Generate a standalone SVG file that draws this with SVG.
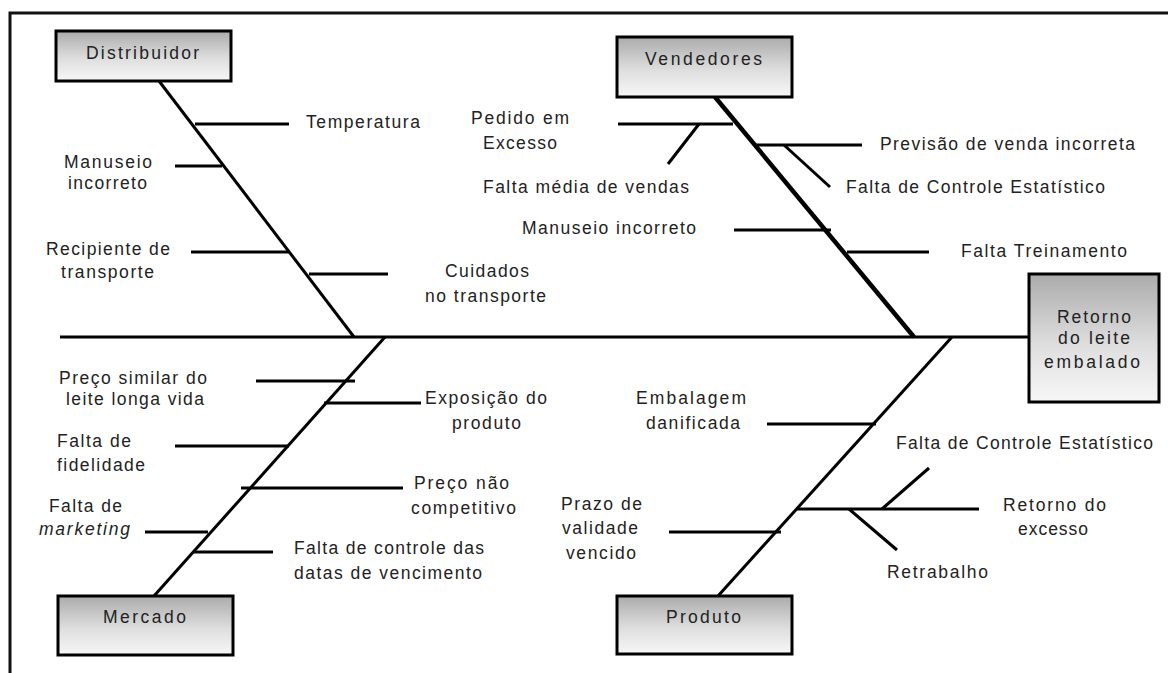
<svg xmlns="http://www.w3.org/2000/svg" width="1168" height="673" viewBox="0 0 1168 673">
<style>
.frame{fill:none;stroke:#111;stroke-width:3}
.bone{fill:none;stroke:#000;stroke-width:3;stroke-linecap:butt}
.thick{stroke-width:4.5}
.box{fill:url(#g);stroke:#000;stroke-width:3}
text{font-family:"Liberation Sans",Arial,sans-serif;font-size:17.5px;fill:#222}
.it{font-style:italic}
</style>
<defs>
<linearGradient id="g" x1="0" y1="0" x2="0" y2="1">
<stop offset="0" stop-color="#ababab"/>
<stop offset="0.55" stop-color="#dedede"/>
<stop offset="1" stop-color="#f7f7f7"/>
</linearGradient>
</defs>
<rect width="1168" height="673" fill="#fff"/>
<path class="frame" d="M10,673 V13 H1168"/>

<g id="connectors">
<line class="bone" x1="60" y1="337" x2="1029" y2="337"/>
<line class="bone" x1="159" y1="81" x2="354" y2="337"/>
<line class="bone thick" x1="715" y1="97" x2="914" y2="337"/>
<line class="bone" x1="385" y1="337" x2="154" y2="596"/>
<line class="bone" x1="952" y1="337" x2="718" y2="596"/>
<line class="bone" x1="195" y1="124" x2="289" y2="124"/>
<line class="bone" x1="175" y1="166" x2="222" y2="166"/>
<line class="bone" x1="191" y1="252" x2="289" y2="252"/>
<line class="bone" x1="309" y1="274" x2="388" y2="274"/>
<line class="bone" x1="618" y1="124" x2="733" y2="124"/>
<line class="bone" x1="699" y1="124" x2="668" y2="164"/>
<line class="bone" x1="756" y1="145" x2="862" y2="145"/>
<line class="bone" x1="784" y1="145" x2="830" y2="187"/>
<line class="bone" x1="734" y1="230" x2="831" y2="230"/>
<line class="bone" x1="847" y1="252" x2="929" y2="252"/>
<line class="bone" x1="256" y1="381" x2="355" y2="381"/>
<line class="bone" x1="324" y1="403" x2="421" y2="403"/>
<line class="bone" x1="175" y1="446" x2="289" y2="446"/>
<line class="bone" x1="241" y1="488" x2="403" y2="488"/>
<line class="bone" x1="145" y1="532" x2="208" y2="532"/>
<line class="bone" x1="193" y1="552" x2="273" y2="552"/>
<line class="bone" x1="767" y1="424" x2="876" y2="424"/>
<line class="bone" x1="669" y1="532" x2="781" y2="532"/>
<line class="bone" x1="796" y1="509" x2="979" y2="509"/>
<line class="bone" x1="882" y1="509" x2="929" y2="468"/>
<line class="bone" x1="849" y1="509" x2="897" y2="550"/>
</g>

<g id="node-distribuidor">
<rect class="box" x="56" y="31" width="175" height="50"/>
<text x="86" y="59" textLength="113" lengthAdjust="spacing">Distribuidor</text>
</g>
<g id="node-vendedores">
<rect class="box" x="617" y="37" width="175" height="60"/>
<text x="645" y="65" textLength="117" lengthAdjust="spacing">Vendedores</text>
</g>
<g id="node-mercado">
<rect class="box" x="58" y="596" width="175" height="59"/>
<text x="103" y="623" textLength="83" lengthAdjust="spacing">Mercado</text>
</g>
<g id="node-produto">
<rect class="box" x="617" y="596" width="175" height="58"/>
<text x="666" y="623" textLength="75" lengthAdjust="spacing">Produto</text>
</g>
<g id="node-retorno">
<rect class="box" x="1029" y="274" width="130" height="128"/>
<text x="1057" y="323" textLength="74" lengthAdjust="spacing">Retorno</text>
<text x="1058" y="344" textLength="72" lengthAdjust="spacing">do leite</text>
<text x="1044" y="368" textLength="96" lengthAdjust="spacing">embalado</text>
</g>

<g id="causes-distribuidor">
<text x="306" y="128" textLength="114" lengthAdjust="spacing">Temperatura</text>
<text x="64" y="168" textLength="88" lengthAdjust="spacing">Manuseio</text>
<text x="68" y="189" textLength="79" lengthAdjust="spacing">incorreto</text>
<text x="46" y="255" textLength="124" lengthAdjust="spacing">Recipiente de</text>
<text x="61" y="278" textLength="93" lengthAdjust="spacing">transporte</text>
<text x="445" y="277" textLength="84" lengthAdjust="spacing">Cuidados</text>
<text x="425" y="302" textLength="121" lengthAdjust="spacing">no transporte</text>
</g>

<g id="causes-vendedores">
<text x="471" y="124" textLength="98" lengthAdjust="spacing">Pedido em</text>
<text x="483" y="149" textLength="74" lengthAdjust="spacing">Excesso</text>
<text x="483" y="193" textLength="206" lengthAdjust="spacing">Falta média de vendas</text>
<text x="522" y="234" textLength="174" lengthAdjust="spacing">Manuseio incorreto</text>
<text x="880" y="150" textLength="255" lengthAdjust="spacing">Previsão de venda incorreta</text>
<text x="846" y="193" textLength="259" lengthAdjust="spacing">Falta de Controle Estatístico</text>
<text x="961" y="257" textLength="166" lengthAdjust="spacing">Falta Treinamento</text>
</g>

<g id="causes-mercado">
<text x="59" y="384" textLength="148" lengthAdjust="spacing">Preço similar do</text>
<text x="66" y="405" textLength="138" lengthAdjust="spacing">leite longa vida</text>
<text x="425" y="404" textLength="122" lengthAdjust="spacing">Exposição do</text>
<text x="452" y="429" textLength="69" lengthAdjust="spacing">produto</text>
<text x="57" y="447" textLength="74" lengthAdjust="spacing">Falta de</text>
<text x="57" y="471" textLength="88" lengthAdjust="spacing">fidelidade</text>
<text x="414" y="489" textLength="95" lengthAdjust="spacing">Preço não</text>
<text x="411" y="514" textLength="105" lengthAdjust="spacing">competitivo</text>
<text x="49" y="512" textLength="73" lengthAdjust="spacing">Falta de</text>
<text class="it" x="39" y="535" textLength="91" lengthAdjust="spacing">marketing</text>
<text x="294" y="554" textLength="190" lengthAdjust="spacing">Falta de controle das</text>
<text x="294" y="579" textLength="188" lengthAdjust="spacing">datas de vencimento</text>
</g>

<g id="causes-produto">
<text x="636" y="404" textLength="110" lengthAdjust="spacing">Embalagem</text>
<text x="646" y="429" textLength="94" lengthAdjust="spacing">danificada</text>
<text x="896" y="449" textLength="257" lengthAdjust="spacing">Falta de Controle Estatístico</text>
<text x="1003" y="511" textLength="103" lengthAdjust="spacing">Retorno do</text>
<text x="1018" y="535" textLength="70" lengthAdjust="spacing">excesso</text>
<text x="887" y="578" textLength="101" lengthAdjust="spacing">Retrabalho</text>
<text x="561" y="510" textLength="81" lengthAdjust="spacing">Prazo de</text>
<text x="562" y="534" textLength="76" lengthAdjust="spacing">validade</text>
<text x="566" y="559" textLength="70" lengthAdjust="spacing">vencido</text>
</g>
</svg>
